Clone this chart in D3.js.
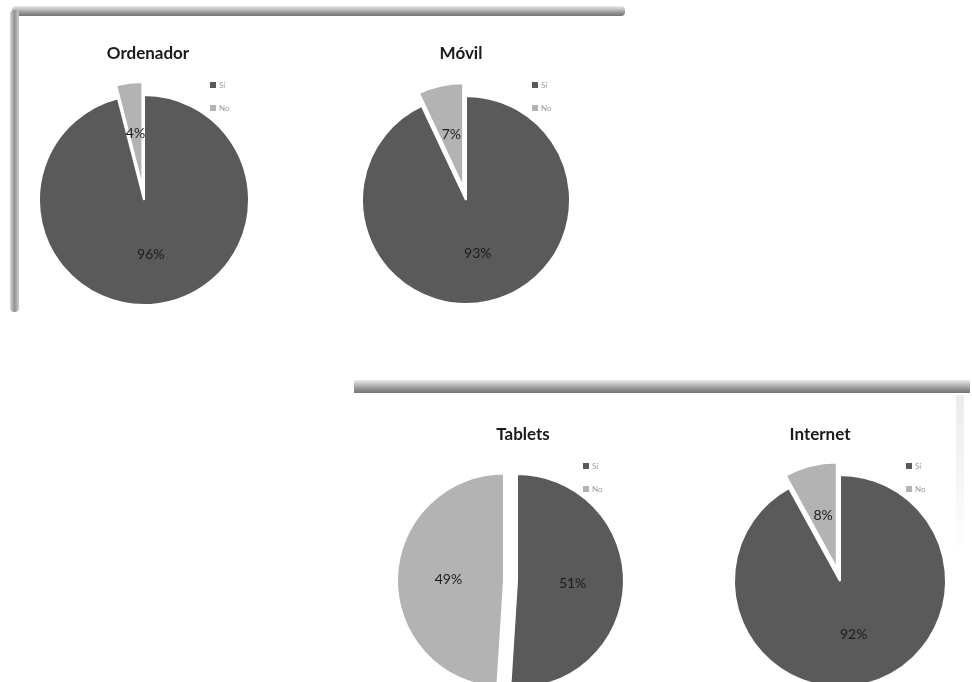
<!DOCTYPE html>
<html>
<head>
<meta charset="utf-8">
<script src="https://cdn.jsdelivr.net/npm/d3@7"></script>
<style>
  body { margin: 0; background: #fff; }
  svg { display: block; }
</style>
</head>
<body>
<div class="chart"></div>
<script>
// data
var titles = ["Ordenador", "Móvil", "Tablets", "Internet"];
var categories = ["Sí", "No"];
var siValues = [96, 93, 51, 92];
var noValues = [4, 7, 49, 8];

var svgWidth = 972;
var svgHeight = 682;

// where each pie sits on the page
var layout = [
  {cx: 144, cy: 200, r: 105, titleDx: 4},
  {cx: 466, cy: 200, r: 104, titleDx: -5},
  {cx: 517, cy: 581, r: 107, titleDx: 6},
  {cx: 840, cy: 581, r: 106, titleDx: -20}
];

var color = d3.scaleOrdinal()
  .domain(categories)
  .range(["#5a5a5a", "#b3b3b3"]);

var svg = d3.select(".chart")
  .append("svg")
  .attr("width", svgWidth)
  .attr("height", svgHeight);

var defs = svg.append("defs");

// soft look of the scanned picture
defs.append("filter")
  .attr("id", "soft")
  .append("feGaussianBlur")
  .attr("stdDeviation", 0.6);

var gv = defs.append("linearGradient")
  .attr("id", "barV")
  .attr("x1", 0).attr("y1", 0).attr("x2", 0).attr("y2", 1);
gv.append("stop").attr("offset", "0%").attr("stop-color", "#ececec");
gv.append("stop").attr("offset", "70%").attr("stop-color", "#909090");
gv.append("stop").attr("offset", "100%").attr("stop-color", "#747474");

var gh = defs.append("linearGradient")
  .attr("id", "barH")
  .attr("x1", 0).attr("y1", 0).attr("x2", 1).attr("y2", 0);
gh.append("stop").attr("offset", "0%").attr("stop-color", "#d8d8d8");
gh.append("stop").attr("offset", "50%").attr("stop-color", "#929292");
gh.append("stop").attr("offset", "100%").attr("stop-color", "#cccccc");

var gFade = defs.append("linearGradient")
  .attr("id", "fade")
  .attr("x1", 0).attr("y1", 0).attr("x2", 0).attr("y2", 1);
gFade.append("stop").attr("offset", "0%").attr("stop-color", "#ececec");
gFade.append("stop").attr("offset", "100%").attr("stop-color", "#ffffff");

var page = svg.append("g").attr("filter", "url(#soft)");

// panel frames (shadowed edges)
page.append("rect").attr("x", 12).attr("y", 6).attr("width", 613).attr("height", 10)
  .attr("rx", 4).attr("fill", "url(#barV)");
page.append("rect").attr("x", 10).attr("y", 10).attr("width", 9).attr("height", 302)
  .attr("rx", 4).attr("fill", "url(#barH)");
page.append("rect").attr("x", 354).attr("y", 380).attr("width", 616).attr("height", 13)
  .attr("fill", "url(#barV)");
page.append("rect").attr("x", 956).attr("y", 395).attr("width", 8).attr("height", 160)
  .attr("fill", "url(#fade)");

var pie = d3.pie().sort(null).value(function(d) { return d.value; });
var explode = 13;

titles.forEach(function(title, i) {
  var L = layout[i];
  var rows = [
    {cat: categories[0], value: siValues[i]},
    {cat: categories[1], value: noValues[i]}
  ];
  var arcs = pie(rows);
  var arc = d3.arc().innerRadius(0).outerRadius(L.r);
  var labelArc = d3.arc().innerRadius(L.r * 0.52).outerRadius(L.r * 0.52);

  var g = page.append("g")
    .attr("transform", "translate(" + L.cx + "," + L.cy + ")");

  var slices = g.selectAll("g.slice")
    .data(arcs)
    .enter()
    .append("g")
    .attr("class", "slice")
    .attr("transform", function(d) {
      if (d.data.cat !== categories[1]) return null;
      var a = (d.startAngle + d.endAngle) / 2;
      return "translate(" + (explode * Math.sin(a)) + "," + (-explode * Math.cos(a)) + ")";
    });

  slices.append("path")
    .attr("d", arc)
    .attr("fill", function(d) { return color(d.data.cat); })
    .attr("stroke", "#fff")
    .attr("stroke-width", 2);

  slices.append("text")
    .attr("transform", function(d) { return "translate(" + labelArc.centroid(d) + ")"; })
    .attr("text-anchor", "middle")
    .attr("dy", "0.35em")
    .attr("font-family", "Lato, 'Open Sans', sans-serif")
    .attr("font-size", 14)
    .attr("fill", "#1c1c1c")
    .text(function(d) { return d.data.value + "%"; });

  g.append("text")
    .attr("x", L.titleDx)
    .attr("y", -141)
    .attr("text-anchor", "middle")
    .attr("font-family", "Lato, 'Open Sans', sans-serif")
    .attr("font-weight", "bold")
    .attr("font-size", 17)
    .attr("fill", "#1a1a1a")
    .text(title);

  var legend = g.selectAll("g.legend")
    .data(categories)
    .enter()
    .append("g")
    .attr("class", "legend")
    .attr("transform", function(d, j) { return "translate(66," + (-118 + j * 23) + ")"; });

  legend.append("rect")
    .attr("width", 6).attr("height", 6)
    .attr("fill", function(d) { return color(d); });

  legend.append("text")
    .attr("x", 9).attr("y", 6)
    .attr("font-family", "Lato, 'Open Sans', sans-serif")
    .attr("font-size", 8)
    .attr("fill", "#999")
    .text(function(d) { return d; });
});
</script>
</body>
</html>
